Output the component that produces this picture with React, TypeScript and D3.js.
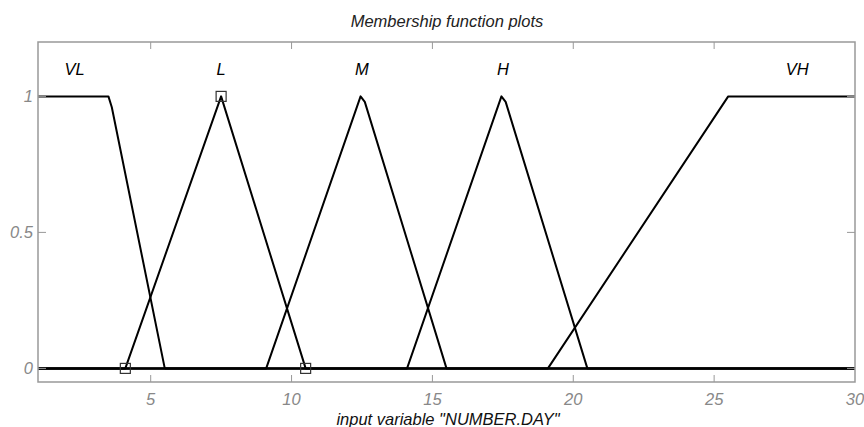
import React from "react";
import * as d3 from "d3";

const mfNames = ["VL", "L", "M", "H", "VH"];
const vlPoints: [number, number][] = [[1, 1], [3.5, 1], [3.62, 0.96], [5.5, 0]];
const lPoints: [number, number][] = [[1, 0], [4.1, 0], [7.5, 1], [10.5, 0], [30, 0]];
const mPoints: [number, number][] = [[1, 0], [9.1, 0], [12.45, 1], [12.6, 0.98], [15.5, 0], [30, 0]];
const hPoints: [number, number][] = [[1, 0], [14.1, 0], [17.45, 1], [17.6, 0.98], [20.5, 0], [30, 0]];
const vhPoints: [number, number][] = [[1, 0], [19.1, 0], [25.5, 1], [30, 1]];
const vlRest: [number, number][] = [[5.5, 0], [30, 0]];
const labelX = [2.3, 7.5, 12.5, 17.5, 27.95];
const markerPoints: [number, number][] = [[4.1, 0], [7.5, 1], [10.5, 0]];
const xTicks = [5, 10, 15, 20, 25, 30];
const yTicks = [0, 0.5, 1];

const W = 864, H = 427;
const left = 38, right = 855, top = 42, bottom = 382;

export default function App() {
  const x = d3.scaleLinear().domain([1, 30]).range([left, right]);
  const y = d3.scaleLinear().domain([-0.05, 1.2]).range([bottom, top]);
  const line = d3.line<[number, number]>().x(d => x(d[0])).y(d => y(d[1]));
  const curves = [vlPoints, vlRest, lPoints, mPoints, hPoints, vhPoints];
  const gray = "#999";
  const font = "Arial, 'Liberation Sans', sans-serif";
  return (
    <svg width={W} height={H} style={{ position: "absolute", left: 0, top: 0, background: "#fff" }}>
      <rect x={0} y={0} width={W} height={H} fill="#fff" />
      <text x={447} y={27} textAnchor="middle" fontStyle="italic" fontSize={16.5} fill="#222" fontFamily={font}>Membership function plots</text>
      <defs>
        <clipPath id="clip"><rect x={left} y={top} width={right - left} height={bottom - top} /></clipPath>
      </defs>
      <g clipPath="url(#clip)">
        {curves.map((c, i) => (
          <path key={i} d={line(c) || ""} fill="none" stroke="#000" strokeWidth={2} strokeLinejoin="round" />
        ))}
      </g>
      {markerPoints.map((p, i) => (
        <rect key={i} x={x(p[0]) - 5} y={y(p[1]) - 5} width={10} height={10} fill="none" stroke="#333" strokeWidth={1.2} />
      ))}
      {mfNames.map((n, i) => (
        <text key={n} x={x(labelX[i])} y={75} textAnchor="middle" fontStyle="italic" fontSize={16.5} fill="#000" fontFamily={font}>{n}</text>
      ))}
      <rect x={left} y={top} width={right - left} height={bottom - top} fill="none" stroke={gray} strokeWidth={1.5} />
      {xTicks.filter(t => t < 30).map(t => (
        <g key={t}>
          <line x1={x(t)} x2={x(t)} y1={bottom} y2={bottom - 7} stroke={gray} strokeWidth={1} />
          <line x1={x(t)} x2={x(t)} y1={top} y2={top + 7} stroke={gray} strokeWidth={1} />
        </g>
      ))}
      {xTicks.map(t => (
        <text key={t} x={x(t)} y={405} textAnchor="middle" fontStyle="italic" fontSize={16.5} fill="#888" fontFamily={font}>{t}</text>
      ))}
      {yTicks.map(t => (
        <g key={t}>
          <line x1={left} x2={left + 8} y1={y(t)} y2={y(t)} stroke={gray} strokeWidth={1} />
          <line x1={right} x2={right - 8} y1={y(t)} y2={y(t)} stroke={gray} strokeWidth={1} />
          <text x={left - 5} y={y(t) + 6} textAnchor="end" fontStyle="italic" fontSize={16.5} fill="#888" fontFamily={font}>{t}</text>
        </g>
      ))}
      <text x={448} y={425} textAnchor="middle" fontStyle="italic" fontSize={16.5} fill="#111" fontFamily={font}>input variable "NUMBER.DAY"</text>
    </svg>
  );
}
